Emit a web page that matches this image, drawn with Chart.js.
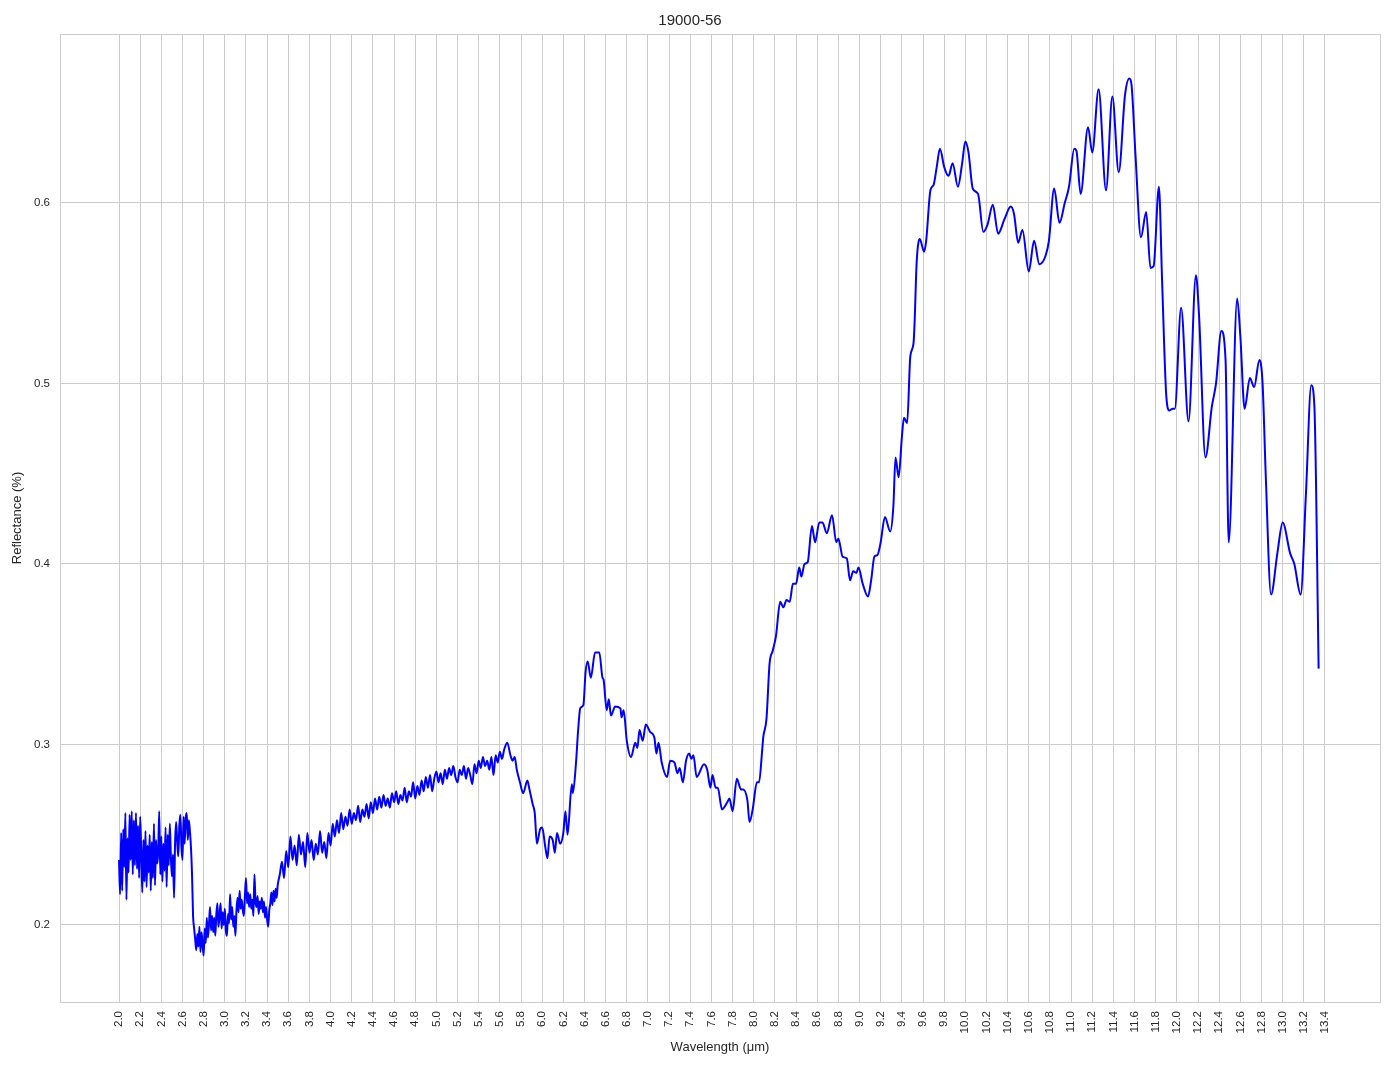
<!DOCTYPE html>
<html>
<head>
<meta charset="utf-8">
<title>19000-56</title>
<script src="https://cdn.jsdelivr.net/npm/chart.js@4.4.0/dist/chart.umd.min.js"></script>
<style>
  html, body { margin: 0; padding: 0; background: #fff; }
</style>
</head>
<body>
<canvas id="spectrum" width="1394" height="1069"></canvas>
<script>
const wavelength = [
  2.00, 2.01, 2.02, 2.03, 2.04, 2.05, 2.06, 2.07, 2.08, 2.09,
  2.10, 2.11, 2.12, 2.13, 2.14, 2.15, 2.16, 2.17, 2.18, 2.19,
  2.20, 2.21, 2.22, 2.23, 2.24, 2.25, 2.26, 2.27, 2.28, 2.29,
  2.30, 2.31, 2.32, 2.33, 2.34, 2.35, 2.36, 2.37, 2.38, 2.39,
  2.40, 2.41, 2.42, 2.43, 2.44, 2.45, 2.46, 2.47, 2.48, 2.49,
  2.50, 2.51, 2.52, 2.53, 2.54, 2.55, 2.56, 2.57, 2.58, 2.59,
  2.60, 2.61, 2.62, 2.63, 2.64, 2.65, 2.66, 2.67, 2.68, 2.69,
  2.70, 2.71, 2.72, 2.73, 2.74, 2.75, 2.76, 2.77, 2.78, 2.79,
  2.80, 2.81, 2.82, 2.83, 2.84, 2.85, 2.86, 2.87, 2.88, 2.89,
  2.90, 2.91, 2.92, 2.93, 2.94, 2.95, 2.96, 2.97, 2.98, 2.99,
  3.00, 3.01, 3.02, 3.03, 3.04, 3.05, 3.06, 3.07, 3.08, 3.09,
  3.10, 3.11, 3.12, 3.13, 3.14, 3.15, 3.16, 3.17, 3.18, 3.19,
  3.20, 3.21, 3.22, 3.23, 3.24, 3.25, 3.26, 3.27, 3.28, 3.29,
  3.30, 3.31, 3.32, 3.33, 3.34, 3.35, 3.36, 3.37, 3.38, 3.39,
  3.40, 3.41, 3.42, 3.43, 3.44, 3.45, 3.46, 3.47, 3.48, 3.49,
  3.50,
  3.52, 3.54, 3.56, 3.58, 3.60, 3.62, 3.64, 3.66, 3.68, 3.70,
  3.72, 3.74, 3.76, 3.78, 3.80, 3.82, 3.84, 3.86, 3.88, 3.90,
  3.92, 3.94, 3.96, 3.98, 4.00, 4.02, 4.04, 4.06, 4.08, 4.10,
  4.12, 4.14, 4.16, 4.18, 4.20, 4.22, 4.24, 4.26, 4.28, 4.30,
  4.32, 4.34, 4.36, 4.38, 4.40, 4.42, 4.44, 4.46, 4.48, 4.50,
  4.52, 4.54, 4.56, 4.58, 4.60, 4.62, 4.64, 4.66, 4.68, 4.70,
  4.72, 4.74, 4.76, 4.78, 4.80, 4.82, 4.84, 4.86, 4.88, 4.90,
  4.92, 4.94, 4.96, 4.98, 5.00, 5.02, 5.04, 5.06, 5.08, 5.10,
  5.12, 5.14, 5.16, 5.18, 5.20, 5.22, 5.24, 5.26, 5.28, 5.30,
  5.32, 5.34, 5.36, 5.38, 5.40, 5.42, 5.44, 5.46, 5.48, 5.50,
  5.52, 5.54, 5.56, 5.58, 5.60,
  5.62, 5.64, 5.67, 5.70, 5.72, 5.74, 5.76, 5.79, 5.82, 5.86,
  5.88, 5.91, 5.93, 5.95, 5.98, 6.00, 6.03, 6.05, 6.07, 6.10,
  6.12, 6.14, 6.17, 6.20, 6.22, 6.24, 6.28, 6.29, 6.32, 6.34,
  6.36, 6.39, 6.41, 6.43, 6.46, 6.50, 6.54, 6.57, 6.58, 6.61,
  6.63, 6.65, 6.69, 6.74, 6.75, 6.77, 6.80, 6.84, 6.88, 6.90,
  6.92, 6.95, 6.98, 7.02, 7.06, 7.08, 7.10, 7.13, 7.18, 7.21,
  7.25, 7.28, 7.30, 7.33, 7.36, 7.39, 7.41, 7.43, 7.46, 7.53,
  7.56, 7.59, 7.61, 7.64, 7.66, 7.70, 7.75, 7.77, 7.80, 7.84,
  7.88, 7.90, 7.94, 7.96, 7.99, 8.03, 8.05, 8.08, 8.09, 8.12,
  8.15, 8.18, 8.21, 8.25, 8.28, 8.31, 8.34, 8.37, 8.40, 8.43,
  8.45, 8.48, 8.51, 8.55, 8.58, 8.62, 8.65, 8.69, 8.74, 8.78,
  8.80, 8.84, 8.88, 8.91, 8.94, 8.97, 8.99, 9.03, 9.08, 9.11,
  9.14, 9.17, 9.20, 9.24, 9.29, 9.32, 9.34, 9.37, 9.40, 9.42,
  9.45, 9.48, 9.51, 9.52, 9.54, 9.57, 9.61, 9.63, 9.67, 9.70,
  9.73, 9.76, 9.80, 9.84, 9.85, 9.88, 9.93, 9.97, 10.00, 10.03,
  10.07, 10.12, 10.17, 10.21, 10.26, 10.31, 10.37, 10.43, 10.46, 10.50,
  10.54, 10.60, 10.65, 10.70, 10.76, 10.79, 10.84, 10.89, 10.94, 10.98,
  11.03, 11.05, 11.09, 11.16, 11.20, 11.26, 11.33, 11.39, 11.45, 11.51,
  11.55, 11.57, 11.61, 11.66, 11.71, 11.75, 11.78, 11.83, 11.86, 11.90,
  11.93, 11.96, 11.98, 12.04, 12.11, 12.18, 12.21, 12.27, 12.33, 12.37,
  12.42, 12.46, 12.49, 12.57, 12.60, 12.64, 12.69, 12.73, 12.78, 12.81,
  12.84, 12.89, 12.95, 13.00, 13.07, 13.11, 13.17, 13.22, 13.27, 13.30,
  13.34
];

const reflectance = [
  0.236, 0.217, 0.251, 0.219, 0.253, 0.232, 0.262, 0.214, 0.248, 0.229,
  0.261, 0.236, 0.263, 0.228, 0.258, 0.233, 0.262, 0.231, 0.255, 0.226,
  0.260, 0.240, 0.218, 0.247, 0.224, 0.252, 0.221, 0.244, 0.229, 0.250,
  0.219, 0.246, 0.226, 0.256, 0.222, 0.247, 0.234, 0.240, 0.263, 0.228,
  0.249, 0.224, 0.245, 0.230, 0.254, 0.221, 0.250, 0.233, 0.256, 0.238,
  0.227, 0.239, 0.215, 0.246, 0.257, 0.246, 0.238, 0.255, 0.261, 0.243,
  0.236, 0.260, 0.245, 0.259, 0.262, 0.247, 0.258, 0.252, 0.243, 0.228,
  0.205, 0.198, 0.192, 0.186, 0.195, 0.188, 0.199, 0.185, 0.196, 0.189,
  0.183, 0.198, 0.190, 0.204, 0.193, 0.200, 0.210, 0.197, 0.205, 0.196,
  0.204, 0.194, 0.206, 0.212, 0.199, 0.205, 0.212, 0.198, 0.207, 0.200,
  0.209, 0.197, 0.194, 0.206, 0.201, 0.217, 0.203, 0.210, 0.199, 0.205,
  0.194, 0.208, 0.215, 0.207, 0.219, 0.209, 0.214, 0.208, 0.205, 0.216,
  0.226, 0.212, 0.218, 0.210, 0.217, 0.209, 0.214, 0.205, 0.228, 0.213,
  0.210, 0.216, 0.206, 0.213, 0.209, 0.215, 0.207, 0.213, 0.204, 0.210,
  0.203, 0.199, 0.208, 0.212, 0.218, 0.211, 0.219, 0.213, 0.220, 0.215,
  0.222,
  0.228, 0.235, 0.226, 0.241, 0.232, 0.249, 0.236, 0.244, 0.233, 0.250,
  0.239, 0.246, 0.232, 0.251, 0.240, 0.247, 0.236, 0.245, 0.239, 0.252,
  0.240, 0.246, 0.237, 0.251, 0.244, 0.256, 0.249, 0.258, 0.251, 0.262,
  0.253, 0.260, 0.255, 0.264, 0.256, 0.262, 0.258, 0.266, 0.257, 0.264,
  0.260, 0.267, 0.259, 0.268, 0.262, 0.270, 0.264, 0.271, 0.265, 0.272,
  0.266, 0.270, 0.265, 0.273, 0.268, 0.274, 0.267, 0.272, 0.269, 0.276,
  0.268, 0.274, 0.271, 0.279, 0.270, 0.277, 0.272, 0.280, 0.274, 0.282,
  0.276, 0.283, 0.274, 0.281, 0.285, 0.279, 0.284, 0.278, 0.286, 0.281,
  0.287, 0.283, 0.288, 0.282, 0.279, 0.286, 0.283, 0.288, 0.281, 0.287,
  0.283, 0.278, 0.289, 0.284, 0.291, 0.287, 0.293, 0.288, 0.291, 0.286,
  0.293, 0.283, 0.294, 0.290, 0.296,
  0.292, 0.297, 0.301, 0.294, 0.291, 0.293, 0.286, 0.279, 0.273, 0.280,
  0.275, 0.267, 0.262, 0.245, 0.253, 0.254, 0.243, 0.237, 0.249, 0.247,
  0.240, 0.251, 0.245, 0.251, 0.263, 0.250, 0.278, 0.273, 0.290, 0.308,
  0.320, 0.322, 0.340, 0.346, 0.337, 0.351, 0.351, 0.337, 0.336, 0.319,
  0.325, 0.316, 0.321, 0.320, 0.315, 0.319, 0.302, 0.293, 0.301, 0.298,
  0.308, 0.302, 0.311, 0.307, 0.304, 0.295, 0.301, 0.290, 0.282, 0.291,
  0.290, 0.284, 0.287, 0.279, 0.291, 0.295, 0.292, 0.294, 0.282, 0.289,
  0.286, 0.276, 0.283, 0.276, 0.276, 0.264, 0.268, 0.270, 0.263, 0.281,
  0.275, 0.275, 0.269, 0.257, 0.264, 0.279, 0.279, 0.297, 0.304, 0.314,
  0.345, 0.352, 0.360, 0.379, 0.376, 0.380, 0.379, 0.389, 0.389, 0.398,
  0.393, 0.400, 0.401, 0.421, 0.412, 0.423, 0.423, 0.417, 0.427, 0.412,
  0.414, 0.404, 0.403, 0.391, 0.396, 0.395, 0.398, 0.389, 0.382, 0.391,
  0.404, 0.405, 0.412, 0.426, 0.418, 0.432, 0.459, 0.448, 0.470, 0.481,
  0.478, 0.515, 0.522, 0.533, 0.567, 0.580, 0.573, 0.579, 0.607, 0.610,
  0.620, 0.630, 0.620, 0.615, 0.616, 0.622, 0.609, 0.622, 0.634, 0.628,
  0.608, 0.605, 0.584, 0.588, 0.599, 0.583, 0.591, 0.598, 0.594, 0.578,
  0.585, 0.562, 0.579, 0.566, 0.571, 0.579, 0.608, 0.589, 0.600, 0.609,
  0.630, 0.629, 0.605, 0.642, 0.628, 0.663, 0.607, 0.659, 0.617, 0.660,
  0.669, 0.666, 0.625, 0.581, 0.595, 0.564, 0.565, 0.609, 0.557, 0.493,
  0.485, 0.486, 0.486, 0.542, 0.479, 0.560, 0.537, 0.459, 0.487, 0.500,
  0.529, 0.513, 0.412, 0.547, 0.526, 0.486, 0.503, 0.498, 0.513, 0.500,
  0.449, 0.383, 0.406, 0.423, 0.406, 0.400, 0.383, 0.439, 0.499, 0.487,
  0.342
];

const xTicks = [
  2.0, 2.2, 2.4, 2.6, 2.8, 3.0, 3.2, 3.4, 3.6, 3.8,
  4.0, 4.2, 4.4, 4.6, 4.8, 5.0, 5.2, 5.4, 5.6, 5.8,
  6.0, 6.2, 6.4, 6.6, 6.8, 7.0, 7.2, 7.4, 7.6, 7.8,
  8.0, 8.2, 8.4, 8.6, 8.8, 9.0, 9.2, 9.4, 9.6, 9.8,
  10.0, 10.2, 10.4, 10.6, 10.8, 11.0, 11.2, 11.4, 11.6, 11.8,
  12.0, 12.2, 12.4, 12.6, 12.8, 13.0, 13.2, 13.4
];
const yTicks = [0.2, 0.3, 0.4, 0.5, 0.6];

const fontFamily = "'Liberation Sans', Arial, sans-serif";
const textColor = "#262626";
const gridColor = "#cccccc";

// frame round the plot area (top and right sides are not drawn by the axes)
const plotFrame = {
  id: "plotFrame",
  beforeDatasetsDraw(chart) {
    const { ctx, chartArea } = chart;
    ctx.save();
    ctx.strokeStyle = gridColor;
    ctx.lineWidth = 1;
    ctx.strokeRect(
      Math.round(chartArea.left) + 0.5,
      Math.round(chartArea.top) + 0.5,
      Math.round(chartArea.right - chartArea.left),
      Math.round(chartArea.bottom - chartArea.top)
    );
    ctx.restore();
  },
};

const points = wavelength.map((w, i) => ({ x: w, y: reflectance[i] }));

new Chart(document.getElementById("spectrum"), {
  type: "line",
  data: {
    datasets: [
      {
        label: "19000-56",
        data: points,
        borderColor: "#0000ff",
        borderWidth: 2,
        pointRadius: 0,
        fill: false,
        cubicInterpolationMode: "monotone",
      },
    ],
  },
  options: {
    responsive: false,
    animation: false,
    layout: { padding: { left: 0, right: 14, top: 0, bottom: 0 } },
    plugins: {
      legend: { display: false },
      tooltip: { enabled: false },
      title: {
        display: true,
        text: "19000-56",
        color: textColor,
        font: { family: fontFamily, size: 15, weight: "normal" },
        padding: { top: 12, bottom: 4 },
      },
    },
    scales: {
      x: {
        type: "linear",
        min: 1.442,
        max: 13.92,
        afterBuildTicks: (axis) => {
          axis.ticks = xTicks.map((v) => ({ value: v }));
        },
        afterFit: (axis) => {
          axis.height = 67;
        },
        ticks: {
          autoSkip: false,
          minRotation: 90,
          maxRotation: 90,
          padding: 9,
          color: textColor,
          font: { family: fontFamily, size: 11.5 },
          callback: (v) => Number(v).toFixed(1),
        },
        grid: { color: gridColor, lineWidth: 1, drawTicks: false },
        border: { color: gridColor },
        title: {
          display: true,
          text: "Wavelength (μm)",
          color: textColor,
          font: { family: fontFamily, size: 13 },
          padding: { top: 0, bottom: 14 },
        },
      },
      y: {
        type: "linear",
        min: 0.1573,
        max: 0.6936,
        afterBuildTicks: (axis) => {
          axis.ticks = yTicks.map((v) => ({ value: v }));
        },
        afterFit: (axis) => {
          axis.width = 60;
        },
        ticks: {
          padding: 10,
          color: textColor,
          font: { family: fontFamily, size: 11.5 },
          callback: (v) => Number(v).toFixed(1),
        },
        grid: { color: gridColor, lineWidth: 1, drawTicks: false },
        border: { color: gridColor },
        title: {
          display: true,
          text: "Reflectance (%)",
          color: textColor,
          font: { family: fontFamily, size: 13 },
          padding: { top: 10, bottom: 0 },
        },
      },
    },
  },
  plugins: [plotFrame],
});
</script>
</body>
</html>
